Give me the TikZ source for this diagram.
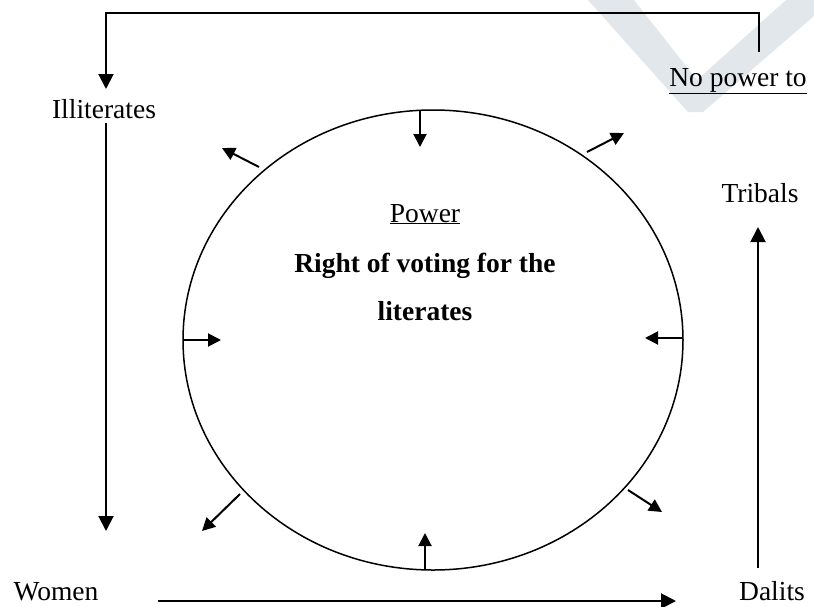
\documentclass[tikz,border=0pt]{standalone}
\usepackage{fontspec}
\setmainfont{Liberation Serif}
\usetikzlibrary{arrows.meta}
\definecolor{wmgray}{RGB}{226,231,236}
\begin{document}
\begin{tikzpicture}[x=1pt,y=-1pt,
  lbl/.style={font=\fontsize{27.5}{32}\selectfont, inner sep=0pt, anchor=base},
  blbl/.style={font=\fontsize{27.5}{32}\selectfont\bfseries, inner sep=0pt, anchor=base},
  bigarrow/.style={line width=2pt, -{Triangle[length=15pt,width=15pt]}},
  smallarrow/.style={line width=2pt, -{Triangle[length=13pt,width=13pt]}},
  ring/.style={line width=1.5pt},
]
\useasboundingbox (0,0) rectangle (814,606);
% watermark
\fill[wmgray] (588,0) -- (634,0) -- (697,80) -- (786,0) -- (814,0) -- (814,16) -- (703,112) -- (688,112) -- cycle;

% texts
\node[lbl] (nopower) at (738,86) {\underline{No power to}};
\node[lbl] (illit) at (104,118) {Illiterates};
\node[lbl] (tribals) at (760,202) {Tribals};
\node[lbl] (women) at (56,600) {Women};
\node[lbl] (dalits) at (772,600) {Dalits};
\node[lbl] (power) at (425,222) {\underline{Power}};
\node[blbl] (right) at (425,272) {Right of voting for the};
\node[blbl] (literates) at (425,320) {literates};

% ellipse
\draw[ring] (433,340) ellipse [x radius=250pt, y radius=230pt];

% connector coordinates
\coordinate (npA) at (759,52);
\coordinate (npB) at (759,13);
\coordinate (npC) at (106,13);
\coordinate (npD) at (106,89);
\coordinate (lA) at (106,123);
\coordinate (lB) at (106,531);
\coordinate (bA) at (158,601);
\coordinate (bB) at (676,601);
\coordinate (rA) at (758,568);
\coordinate (rB) at (758,227);

\draw[bigarrow] (npA) -- (npB) -- (npC) -- (npD);
\draw[bigarrow] (lA) -- (lB);
\draw[bigarrow] (bA) -- (bB);
\draw[bigarrow] (rA) -- (rB);

% ellipse arrows
\coordinate (tA) at (420,110); \coordinate (tB) at (420,147);
\coordinate (btA) at (425,570); \coordinate (btB) at (425,533);
\coordinate (leA) at (183,340); \coordinate (leB) at (221,340);
\coordinate (reA) at (683,338); \coordinate (reB) at (645,338);
\coordinate (ulA) at (259,167); \coordinate (ulB) at (222,148);
\coordinate (urA) at (587,152); \coordinate (urB) at (624,133);
\coordinate (llA) at (240,494); \coordinate (llB) at (202,531);
\coordinate (lrA) at (628,490); \coordinate (lrB) at (662,512);

\draw[smallarrow] (tA) -- (tB);
\draw[smallarrow] (btA) -- (btB);
\draw[smallarrow] (leA) -- (leB);
\draw[smallarrow] (reA) -- (reB);
\draw[smallarrow] (ulA) -- (ulB);
\draw[smallarrow] (urA) -- (urB);
\draw[smallarrow] (llA) -- (llB);
\draw[smallarrow] (lrA) -- (lrB);
\end{tikzpicture}
\end{document}
